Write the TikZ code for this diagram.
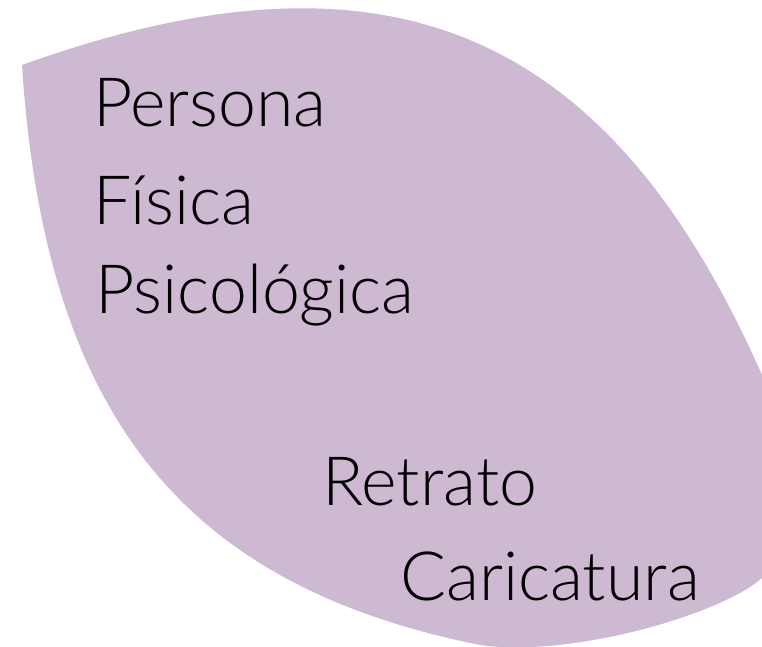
\documentclass[tikz,border=0pt]{standalone}
\usepackage{fontspec}
\setmainfont{Lato Light}
\definecolor{leafcol}{RGB}{205,185,210}
\begin{document}
\begin{tikzpicture}[x=1pt,y=-1pt,
  leaf/.style={fill=leafcol},
  lbl/.style={anchor=base west,inner sep=0pt,font=\fontsize{68}{76}\selectfont,text=black}]
\useasboundingbox (0,0) rectangle (762,647);
\begin{scope}
\clip (0,0) rectangle (762,647);
\fill[leaf] (22,65) .. controls (386,-66) and (608,27) .. (762,375)
  -- (762,578)
  .. controls (720,615) and (570,658) .. (480,645)
  .. controls (187,586) and (45,420) .. (22,65) -- cycle;
\end{scope}
\node[lbl] (persona) at (93,127) {Persona};
\node[lbl] (fisica) at (93,224) {Física};
\node[lbl] (psico) at (95,313) {Psicológica};
\node[lbl] (retrato) at (322,505) {Retrato};
\node[lbl] (carica) at (400,600) {Caricatura};
\end{tikzpicture}
\end{document}
